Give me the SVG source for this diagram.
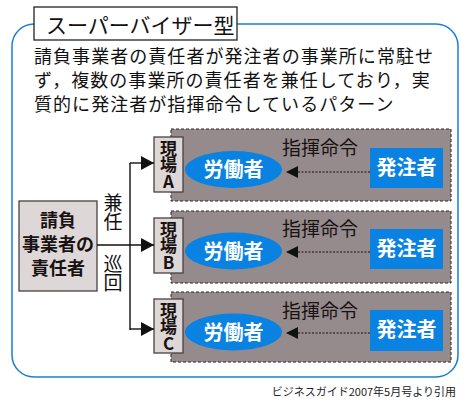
<svg xmlns="http://www.w3.org/2000/svg" width="468" height="404" viewBox="0 0 468 404">
<style>
text{font-family:"Noto Sans CJK JP","Noto Sans CJK SC",sans-serif;}
.site{fill:#968b8c;stroke:#2a2222;stroke-width:1;stroke-dasharray:3,2;}
.lbl{fill:#ddd7d7;stroke:#4a4040;stroke-width:1.3;}
.lbltxt{font-size:17px;font-weight:bold;fill:#1a1212;writing-mode:vertical-rl;text-orientation:upright;letter-spacing:-0.5px;}
.vt{font-size:19px;fill:#111;writing-mode:vertical-rl;text-orientation:upright;}
.worker{fill:#0a82e2;}
.wtxt{font-size:20px;font-weight:bold;fill:#fff;text-anchor:middle;}
.orderer{fill:#0a82e2;}
.cmd{font-size:19px;fill:#1a1212;}
.ln{stroke:#111;stroke-width:1.4;fill:none;}
.dot{stroke:#111;stroke-width:1;stroke-dasharray:2,1.5;fill:none;}
</style>
<defs>
<marker id="ah" markerWidth="13" markerHeight="14" refX="13" refY="7" orient="auto" markerUnits="userSpaceOnUse">
<path d="M0,0 L13,7 L0,14 Z" fill="#111"/>
</marker>
<marker id="ah2" markerWidth="12" markerHeight="12" refX="12" refY="6" orient="auto" markerUnits="userSpaceOnUse">
<path d="M0,0 L12,6 L0,12 Z" fill="#111"/>
</marker>
</defs>
<rect x="0" y="0" width="468" height="404" fill="#fff"/>
<rect x="12" y="24" width="446" height="353" rx="22" ry="22" fill="#fff" stroke="#1a7fd6" stroke-width="1.5"/>
<g id="title">
<rect x="34" y="7" width="203" height="33" fill="#fff" stroke="#222" stroke-width="1.3"/>
<text x="46" y="33" font-size="21" fill="#111">スーパーバイザー型</text>
</g>
<g id="desc">
<text font-size="18" letter-spacing="1.05" fill="#111"><tspan x="34" y="62.5">請負事業者の責任者が発注者の事業所に常駐せ</tspan><tspan x="34" y="86.5">ず，複数の事業所の責任者を兼任しており，実</tspan><tspan x="34" y="110.5">質的に発注者が指揮命令しているパターン</tspan></text>
</g>
<g id="siteA">
<rect class="site" x="171" y="129" width="280" height="72"/>
</g>
<g id="siteB">
<rect class="site" x="171" y="211" width="280" height="72"/>
</g>
<g id="siteC">
<rect class="site" x="171" y="292" width="280" height="70"/>
</g>
<g id="manager">
<rect x="19" y="201" width="78" height="90" fill="#ddd7d7" stroke="#4a4040" stroke-width="1.3"/>
<text font-size="18" font-weight="bold" fill="#1a1212" text-anchor="middle"><tspan x="58" y="227">請負</tspan><tspan x="58" y="251">事業者の</tspan><tspan x="58" y="275">責任者</tspan></text>
</g>
<g id="labelA">
<rect class="lbl" x="154" y="137" width="29" height="55"/>
<text class="lbltxt" x="168.5" y="140">現場A</text>
</g>
<g id="labelB">
<rect class="lbl" x="154" y="218" width="29" height="55"/>
<text class="lbltxt" x="168.5" y="221">現場B</text>
</g>
<g id="labelC">
<rect class="lbl" x="154" y="299" width="29" height="54"/>
<text class="lbltxt" x="168.5" y="302">現場C</text>
</g>
<g id="workerA">
<ellipse class="worker" cx="233.5" cy="169.5" rx="48.5" ry="18.5"/>
<text class="wtxt" x="233.5" y="177">労働者</text>
</g>
<g id="workerB">
<ellipse class="worker" cx="233.5" cy="251" rx="48.5" ry="18.5"/>
<text class="wtxt" x="233.5" y="258.5">労働者</text>
</g>
<g id="workerC">
<ellipse class="worker" cx="233.5" cy="332" rx="48.5" ry="18.5"/>
<text class="wtxt" x="233.5" y="339.5">労働者</text>
</g>
<g id="ordererA">
<rect class="orderer" x="370" y="148" width="73" height="40"/>
<text class="wtxt" x="406.5" y="175">発注者</text>
</g>
<g id="ordererB">
<rect class="orderer" x="370" y="229" width="73" height="40"/>
<text class="wtxt" x="406.5" y="256">発注者</text>
</g>
<g id="ordererC">
<rect class="orderer" x="370" y="310" width="73" height="41"/>
<text class="wtxt" x="406.5" y="337">発注者</text>
</g>
<g id="connectors">
<path class="ln" d="M130,163 V330"/>
<path class="ln" d="M130,163 H154" marker-end="url(#ah)"/>
<path class="ln" d="M97,245 H154" marker-end="url(#ah)"/>
<path class="ln" d="M130,329 H154" marker-end="url(#ah)"/>
<path class="dot" d="M370,172 H286" marker-end="url(#ah2)"/>
<path class="dot" d="M370,252 H286" marker-end="url(#ah2)"/>
<path class="dot" d="M370,333 H286" marker-end="url(#ah2)"/>
</g>
<g id="connector-labels">
<text class="vt" x="113" y="193">兼任</text>
<text class="vt" x="113" y="254">巡回</text>
<text class="cmd" x="282" y="155">指揮命令</text>
<text class="cmd" x="282" y="236">指揮命令</text>
<text class="cmd" x="282" y="318">指揮命令</text>
</g>
<text x="456" y="396" font-size="11" fill="#222" text-anchor="end">ビジネスガイド2007年5月号より引用</text>
</svg>
